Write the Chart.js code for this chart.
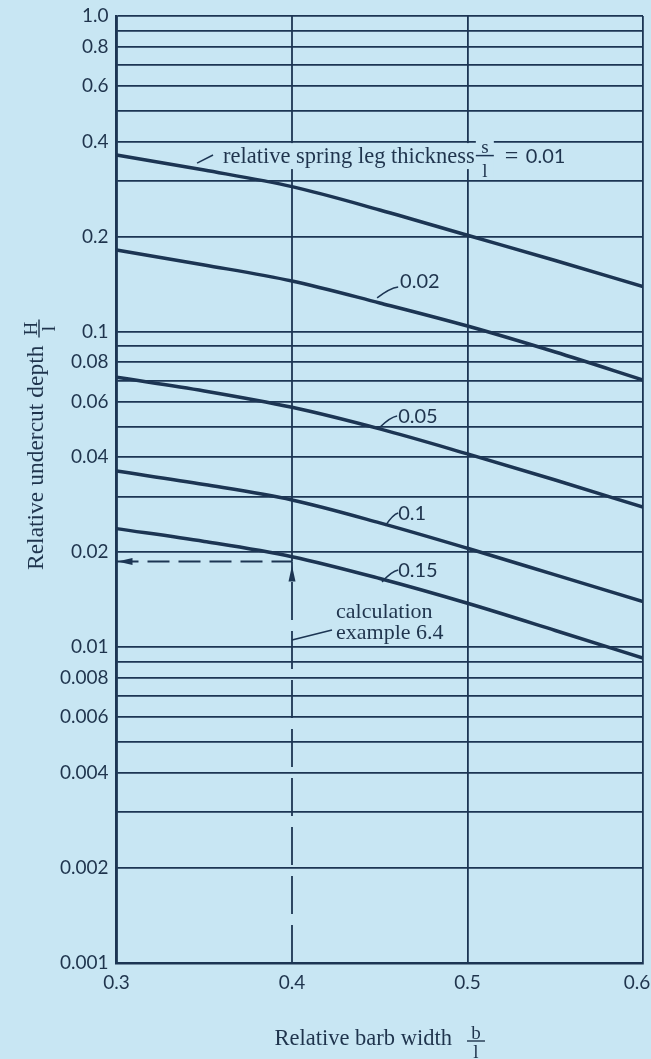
<!DOCTYPE html>
<html><head><meta charset="utf-8">
<script src="https://cdn.jsdelivr.net/npm/chart.js@4/dist/chart.umd.min.js"></script>
<style>html,body{margin:0;padding:0;background:#c8e6f3;} canvas{display:block}</style>
</head><body>
<canvas id="c" width="651" height="1059"></canvas>
<script>
// ---- data ----
const xValues = [0.3, 0.35, 0.4, 0.45, 0.5, 0.55, 0.6];
const curveS001 = [0.363, 0.325, 0.288, 0.243, 0.202, 0.168, 0.139];
const curveS002 = [0.1815, 0.1627, 0.1447, 0.1233, 0.1042, 0.0862, 0.0703];
const curveS005 = [0.0717, 0.0649, 0.0576, 0.0492, 0.0410, 0.0339, 0.0278];
const curveS010 = [0.0362, 0.0328, 0.0293, 0.0248, 0.0206, 0.01696, 0.01396];
const curveS015 = [0.02377, 0.02165, 0.01937, 0.01652, 0.01379, 0.01131, 0.00924];
const xTicks = [0.3, 0.4, 0.5, 0.6];
const xTickLabels = ['0.3', '0.4', '0.5', '0.6\u2002\u2009'];
const yTickLabels = ['1.0','0.8','0.6','0.4','0.2','0.1','0.08','0.06','0.04','0.02','0.01','0.008','0.006','0.004','0.002','0.001'];
const yGridValues = [0.001,0.002,0.003,0.004,0.005,0.006,0.007,0.008,0.009,
                     0.01,0.02,0.03,0.04,0.05,0.06,0.07,0.08,0.09,
                     0.1,0.2,0.3,0.4,0.5,0.6,0.7,0.8,0.9,1];
const exampleX = 0.4, exampleY = 0.0187;

// ---- style ----
const BG = '#c8e6f3', LINE = '#1c3553', TEXT = '#1f344d';
const SANS = 'Lato', SERIF = '"Liberation Serif"';

const curves = [curveS001, curveS002, curveS005, curveS010, curveS015];
const datasets = curves.map(c => ({
  data: xValues.map((x, i) => ({x, y: c[i]})),
  borderColor: LINE, borderWidth: 3.5, pointRadius: 0,
  cubicInterpolationMode: 'monotone', fill: false
}));
datasets.push({data: [{x: exampleX, y: 1}, {x: exampleX, y: exampleY}], borderColor: LINE, borderWidth: 1.8, pointRadius: 0});
datasets.push({data: [{x: 0.3, y: exampleY}, {x: exampleX, y: exampleY}], borderColor: LINE, borderWidth: 1.8, pointRadius: 0, borderDash: [22, 9]});
datasets.push({data: [{x: exampleX, y: 0.001}, {x: exampleX, y: exampleY}], borderColor: LINE, borderWidth: 1.8, pointRadius: 0, borderDash: [38, 11]});

// annotations in data units
const curveLabels = [
  {text: '0.02', tx: 0.4616, ty: 0.1375, l0: [0.4485, 0.1279], l1: [0.4605, 0.1385]},
  {text: '0.05', tx: 0.4605, ty: 0.0515, l0: [0.4502, 0.0499], l1: [0.4599, 0.0541]},
  {text: '0.1',  tx: 0.4605, ty: 0.02533, l0: [0.4531, 0.02424], l1: [0.4605, 0.02665]},
  {text: '0.15', tx: 0.4605, ty: 0.01671, l0: [0.4513, 0.01612], l1: [0.4605, 0.01758]}
];

const annot = {
  id: 'annot',
  afterDatasetsDraw(chart) {
    const {ctx, scales: {x: xs, y: ys}} = chart;
    const P = (xv, yv) => [xs.getPixelForValue(xv), ys.getPixelForValue(yv)];
    ctx.save();
    ctx.fillStyle = TEXT; ctx.strokeStyle = LINE; ctx.lineWidth = 1.5;
    ctx.textBaseline = 'alphabetic'; ctx.textAlign = 'left';

    // spring label
    let [sx, sy] = P(0.3607, 0.342);
    ctx.font = '22.5px ' + SERIF;
    const t1 = 'relative spring leg thickness';
    const w1 = ctx.measureText(t1).width;
    const fcx = sx + w1 + 10;
    ctx.font = '20px ' + SANS;
    const wnum = ctx.measureText('0.01').width;
    ctx.fillStyle = BG;
    ctx.fillRect(sx - 5, sy - 20, w1 + 50 + wnum, 26);
    ctx.fillRect(fcx - 9, sy - 26, 18, 40);
    ctx.fillStyle = TEXT;
    ctx.font = '22.5px ' + SERIF;
    ctx.fillText(t1, sx, sy);
    ctx.font = '19px ' + SERIF; ctx.textAlign = 'center';
    ctx.fillText('s', fcx, sy - 10);
    ctx.fillText('l', fcx, sy + 14);
    ctx.beginPath(); ctx.moveTo(fcx - 9, sy - 7.5); ctx.lineTo(fcx + 9, sy - 7.5); ctx.stroke();
    ctx.textAlign = 'left';
    ctx.font = '24px ' + SERIF;
    ctx.fillText('=', fcx + 20, sy);
    ctx.font = '20px ' + SANS;
    ctx.fillText('0.01', fcx + 41, sy);
    let [a0x, a0y] = P(0.3459, 0.342), [a1x, a1y] = P(0.355, 0.3628);
    ctx.beginPath(); ctx.moveTo(a0x, a0y); ctx.lineTo(a1x, a1y); ctx.stroke();

    // curve labels
    ctx.font = '20px ' + SANS;
    curveLabels.forEach(l => {
      const [tx, ty] = P(l.tx, l.ty);
      ctx.fillText(l.text, tx, ty);
      const [bx, by] = P(l.l0[0], l.l0[1]), [ex, ey] = P(l.l1[0], l.l1[1]);
      ctx.beginPath(); ctx.moveTo(bx, by);
      ctx.quadraticCurveTo(bx + (ex - bx) * 0.6, by - (by - ey) * 0.9, ex, ey); ctx.stroke();
    });

    // calculation example
    ctx.font = '22px ' + SERIF;
    let [cx, cy] = P(0.4251, 0.01239);
    ctx.fillText('calculation', cx, cy);
    [cx, cy] = P(0.4251, 0.01063);
    ctx.fillText('example 6.4', cx, cy);
    [a0x, a0y] = P(exampleX, 0.01055); [a1x, a1y] = P(0.4228, 0.01135);
    ctx.beginPath(); ctx.moveTo(a0x, a0y); ctx.lineTo(a1x, a1y); ctx.stroke();

    // arrows
    ctx.fillStyle = LINE;
    let [hx, hy] = P(0.3, exampleY);
    ctx.beginPath(); ctx.moveTo(hx + 1, hy); ctx.lineTo(hx + 16, hy - 3.5); ctx.lineTo(hx + 16, hy + 3.5); ctx.closePath(); ctx.fill();
    let [vx, vy] = P(exampleX, exampleY);
    ctx.beginPath(); ctx.moveTo(vx, vy + 4); ctx.lineTo(vx - 3.5, vy + 20); ctx.lineTo(vx + 3.5, vy + 20); ctx.closePath(); ctx.fill();
    ctx.restore();
  },
  afterDraw(chart) {
    const {ctx, chartArea: ca} = chart;
    ctx.save();
    ctx.fillStyle = TEXT; ctx.strokeStyle = TEXT; ctx.lineWidth = 1.4;
    // x title
    ctx.font = '22.5px ' + SERIF;
    const xt = 'Relative barb width';
    const wx = ctx.measureText(xt).width;
    const total = wx + 33;
    const x0 = (ca.left + ca.right) / 2 - total / 2;
    const by = ca.bottom + 82;
    ctx.textAlign = 'left'; ctx.textBaseline = 'alphabetic';
    ctx.fillText(xt, x0, by);
    const fx = x0 + wx + 24;
    ctx.font = '19px ' + SERIF; ctx.textAlign = 'center';
    ctx.fillText('b', fx, by - 6);
    ctx.fillText('l', fx, by + 13);
    ctx.beginPath(); ctx.moveTo(fx - 9, by - 4); ctx.lineTo(fx + 9, by - 4); ctx.stroke();
    // y title
    ctx.translate(43, ca.top + 554); ctx.rotate(-Math.PI / 2);
    ctx.font = '23.5px ' + SERIF; ctx.textAlign = 'left';
    const yt = 'Relative undercut depth';
    const wy = ctx.measureText(yt).width;
    ctx.fillText(yt, 0, 0);
    const fy = wy + 17;
    ctx.font = '19px ' + SERIF; ctx.textAlign = 'center';
    ctx.fillText('H', fy, -6);
    ctx.fillText('l', fy, 12);
    ctx.beginPath(); ctx.moveTo(fy - 9, -4); ctx.lineTo(fy + 9, -4); ctx.stroke();
    ctx.restore();
  }
};

const bgPlugin = {
  id: 'bg',
  beforeDraw(chart) {
    const c = chart.ctx; c.save(); c.fillStyle = BG; c.fillRect(0, 0, chart.width, chart.height); c.restore();
  }
};

new Chart(document.getElementById('c'), {
  type: 'line',
  data: {datasets},
  options: {
    responsive: false, animation: false, devicePixelRatio: 1,
    layout: {padding: {top: 16, right: 8, left: 0, bottom: 0}},
    plugins: {legend: {display: false}, tooltip: {enabled: false}},
    scales: {
      x: {
        type: 'linear', min: 0.3, max: 0.6,
        afterBuildTicks: s => { s.ticks = xTicks.map(v => ({value: v})); },
        afterFit: s => { s.height = 96; s.paddingLeft = 0; s.paddingRight = 0; },
        ticks: {
          callback: v => { const i = xTicks.findIndex(t => Math.abs(t - v) < 1e-9); return i >= 0 ? xTickLabels[i] : ''; },
          font: {family: SANS, size: 19}, color: TEXT, padding: 8, maxRotation: 0, autoSkip: false
        },
        grid: {color: c => (c.tick && Math.abs(c.tick.value - exampleX) < 1e-9) ? 'rgba(0,0,0,0)' : LINE, lineWidth: 1.8, drawTicks: false},
        border: {color: LINE, width: 2.4}
      },
      y: {
        type: 'logarithmic', min: 0.001, max: 1,
        afterBuildTicks: s => { s.ticks = yGridValues.map(v => ({value: v})); },
        afterFit: s => { s.width = 116.5; s.paddingTop = 0; s.paddingBottom = 0; },
        ticks: {
          callback: v => { const m = yTickLabels.find(t => Math.abs(parseFloat(t) - v) < v * 1e-6); return m || ''; },
          font: {family: SANS, size: 19}, color: TEXT, padding: 8, autoSkip: false
        },
        grid: {color: LINE, lineWidth: 1.8, drawTicks: false},
        border: {color: LINE, width: 2.4}
      }
    }
  },
  plugins: [bgPlugin, annot]
});
</script>
</body></html>
